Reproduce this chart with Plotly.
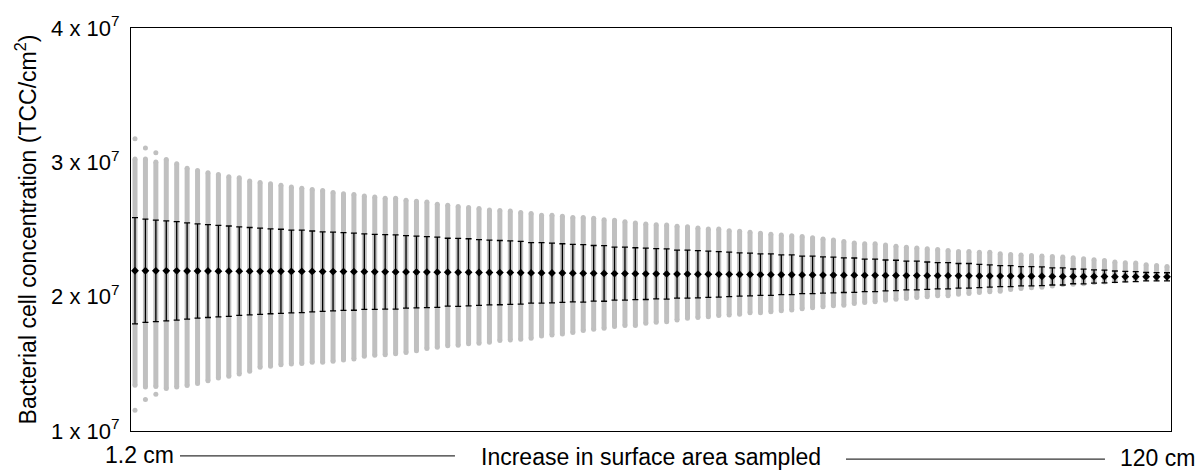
import plotly.graph_objects as go

UNIT = 1e7  # values below are in units of 10^7 TCC/cm2

# sample area (cm), 100 sampling steps of 1.2 cm
areas = [round(1.2 * k, 1) for k in range(1, 101)]

mean_tcc = [2.193, 2.193, 2.192, 2.192, 2.192, 2.191, 2.191, 2.191, 2.190, 2.190,
            2.190, 2.190, 2.189, 2.189, 2.189, 2.188, 2.188, 2.188, 2.187, 2.187,
            2.187, 2.186, 2.186, 2.185, 2.185, 2.184, 2.184, 2.183, 2.183, 2.182,
            2.182, 2.181, 2.181, 2.180, 2.180, 2.179, 2.179, 2.178, 2.177, 2.177,
            2.176, 2.176, 2.175, 2.174, 2.174, 2.173, 2.172, 2.172, 2.171, 2.170,
            2.170, 2.169, 2.168, 2.168, 2.167, 2.167, 2.166, 2.166, 2.165, 2.165,
            2.164, 2.164, 2.163, 2.163, 2.162, 2.162, 2.161, 2.161, 2.160, 2.160,
            2.159, 2.159, 2.158, 2.158, 2.157, 2.157, 2.156, 2.156, 2.156, 2.155,
            2.155, 2.154, 2.154, 2.153, 2.153, 2.152, 2.152, 2.152, 2.151, 2.151,
            2.151, 2.150, 2.150, 2.150, 2.149, 2.149, 2.149, 2.149, 2.148, 2.148]

sd_tcc = [0.395, 0.384, 0.378, 0.372, 0.367, 0.358, 0.351, 0.346, 0.341, 0.336,
          0.330, 0.325, 0.321, 0.316, 0.313, 0.308, 0.307, 0.301, 0.296, 0.293,
          0.289, 0.287, 0.281, 0.279, 0.277, 0.276, 0.270, 0.267, 0.264, 0.261,
          0.253, 0.253, 0.250, 0.245, 0.241, 0.239, 0.236, 0.234, 0.225, 0.225,
          0.222, 0.218, 0.214, 0.214, 0.207, 0.207, 0.197, 0.197, 0.193, 0.191,
          0.187, 0.187, 0.179, 0.179, 0.176, 0.172, 0.169, 0.166, 0.161, 0.159,
          0.154, 0.154, 0.148, 0.148, 0.140, 0.140, 0.135, 0.133, 0.129, 0.128,
          0.121, 0.121, 0.115, 0.113, 0.107, 0.107, 0.102, 0.098, 0.098, 0.092,
          0.092, 0.086, 0.083, 0.078, 0.078, 0.071, 0.071, 0.070, 0.064, 0.064,
          0.055, 0.055, 0.049, 0.047, 0.042, 0.039, 0.037, 0.031, 0.031, 0.030]

# extent of the dense cloud of individual sample values per step
cloud_max = [3.024, 3.024, 3.002, 3.021, 2.989, 2.956, 2.940, 2.923, 2.910, 2.893,
             2.886, 2.861, 2.849, 2.841, 2.829, 2.816, 2.808, 2.797, 2.790, 2.775,
             2.767, 2.760, 2.750, 2.742, 2.733, 2.733, 2.718, 2.711, 2.705, 2.688,
             2.681, 2.671, 2.664, 2.657, 2.646, 2.642, 2.637, 2.627, 2.620, 2.607,
             2.607, 2.598, 2.590, 2.590, 2.583, 2.572, 2.568, 2.558, 2.548, 2.541,
             2.535, 2.533, 2.524, 2.521, 2.511, 2.504, 2.504, 2.491, 2.487, 2.479,
             2.472, 2.465, 2.459, 2.454, 2.447, 2.439, 2.430, 2.422, 2.410, 2.400,
             2.393, 2.393, 2.385, 2.376, 2.368, 2.363, 2.356, 2.351, 2.343, 2.336,
             2.336, 2.331, 2.331, 2.319, 2.314, 2.311, 2.306, 2.302, 2.299, 2.295,
             2.289, 2.282, 2.275, 2.269, 2.258, 2.252, 2.250, 2.238, 2.232, 2.225]

cloud_min = [1.340, 1.327, 1.332, 1.316, 1.327, 1.338, 1.353, 1.375, 1.395, 1.408,
             1.425, 1.445, 1.474, 1.482, 1.494, 1.499, 1.502, 1.511, 1.511, 1.519,
             1.528, 1.536, 1.556, 1.563, 1.567, 1.575, 1.585, 1.597, 1.615, 1.624,
             1.634, 1.639, 1.649, 1.654, 1.661, 1.674, 1.678, 1.683, 1.691, 1.708,
             1.715, 1.723, 1.733, 1.748, 1.757, 1.765, 1.777, 1.785, 1.785, 1.802,
             1.809, 1.814, 1.826, 1.839, 1.844, 1.851, 1.859, 1.863, 1.870, 1.881,
             1.881, 1.888, 1.896, 1.900, 1.910, 1.918, 1.925, 1.932, 1.937, 1.949,
             1.957, 1.962, 1.974, 1.981, 1.986, 1.994, 1.999, 2.006, 2.006, 2.018,
             2.023, 2.031, 2.036, 2.040, 2.053, 2.060, 2.066, 2.070, 2.080, 2.090,
             2.092, 2.097, 2.105, 2.110, 2.117, 2.122, 2.129, 2.134, 2.134, 2.142]

# isolated extreme sample values (sampling step index, value)
outlier_step = [1, 1, 2, 2, 3, 3]
outlier_val = [3.176, 1.155, 3.106, 1.234, 3.071, 1.273]

y_ticks = [1, 2, 3, 4]
y_ticktext = ["1 x 10<sup>7</sup>", "2 x 10<sup>7</sup>", "3 x 10<sup>7</sup>", "4 x 10<sup>7</sup>"]

GRAY = "rgb(192,192,192)"
FONT = "Arial, Liberation Sans, sans-serif"

# build cloud segments
seg_x, seg_y = [], []
for a, lo, hi in zip(areas, cloud_min, cloud_max):
    seg_x += [a, a, None]
    seg_y += [lo * UNIT, hi * UNIT, None]

end_x = areas + areas
end_y = [v * UNIT for v in cloud_min] + [v * UNIT for v in cloud_max]

fig = go.Figure()
fig.add_trace(go.Scatter(x=seg_x, y=seg_y, mode="lines",
                         line=dict(color=GRAY, width=5), hoverinfo="skip", showlegend=False))
fig.add_trace(go.Scatter(x=end_x, y=end_y, mode="markers",
                         marker=dict(color=GRAY, size=5, line=dict(width=0)),
                         hoverinfo="skip", showlegend=False))
fig.add_trace(go.Scatter(x=[areas[i - 1] for i in outlier_step],
                         y=[v * UNIT for v in outlier_val], mode="markers",
                         marker=dict(color=GRAY, size=5, line=dict(width=0)),
                         hoverinfo="skip", showlegend=False))
fig.add_trace(go.Scatter(x=areas, y=[v * UNIT for v in mean_tcc], mode="markers",
                         marker=dict(color="black", size=6, symbol="diamond", line=dict(width=0)),
                         error_y=dict(type="data", array=[v * UNIT for v in sd_tcc],
                                      color="black", thickness=1.3, width=3),
                         showlegend=False))

step = areas[1] - areas[0]
fig.update_xaxes(range=[areas[0] - 0.384 * step, areas[-1] + 0.384 * step],
                 showticklabels=False, ticks="", showgrid=False, zeroline=False,
                 showline=True, mirror=True, linecolor="black", linewidth=1)
fig.update_yaxes(range=[1 * UNIT, 4 * UNIT],
                 tickvals=[t * UNIT for t in y_ticks], ticktext=y_ticktext,
                 ticks="", showgrid=False, zeroline=False,
                 showline=True, mirror=True, linecolor="black", linewidth=1,
                 tickfont=dict(family=FONT, size=22, color="black"),
                 ticklabelstandoff=6)

LINE_C = "#333333"
TFONT = dict(family=FONT, size=23, color="black")
annotations = [
    dict(text="Bacterial cell concentration (TCC/cm<sup>2</sup>)", xref="paper", yref="paper",
         x=-0.101, y=0.5, textangle=-90, showarrow=False, xanchor="center", yanchor="middle",
         font=TFONT),
    dict(text="1.2 cm", xref="paper", yref="paper", x=0.0433, y=-0.0591,
         xanchor="right", yanchor="middle", showarrow=False, font=TFONT),
    dict(text="Increase in surface area sampled", xref="paper", yref="paper", x=0.5, y=-0.064,
         xanchor="center", yanchor="middle", showarrow=False, font=TFONT),
    dict(text="120 cm", xref="paper", yref="paper", x=0.9488, y=-0.0665,
         xanchor="left", yanchor="middle", showarrow=False, font=TFONT),
]
shapes = [
    dict(type="line", xref="paper", yref="paper", x0=0.0471, x1=0.3115, y0=-0.0616, y1=-0.0616,
         line=dict(color=LINE_C, width=1.2)),
    dict(type="line", xref="paper", yref="paper", x0=0.6875, x1=0.9365, y0=-0.0697, y1=-0.0697,
         line=dict(color=LINE_C, width=1.2)),
]

fig.update_layout(width=1198, height=470, margin=dict(l=131, r=27, t=25, b=39),
                  paper_bgcolor="white", plot_bgcolor="white",
                  annotations=annotations, shapes=shapes,
                  font=dict(family=FONT, color="black"))

fig.write_html("out.html")
